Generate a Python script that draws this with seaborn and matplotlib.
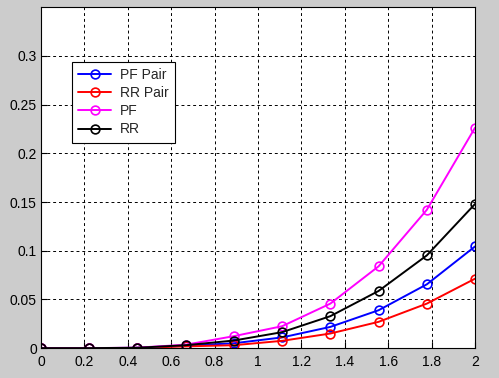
import matplotlib

matplotlib.use("Agg")
import matplotlib.pyplot as plt
import numpy as np
import pandas as pd
import seaborn as sns

# x positions: 10 samples between 0 and 2
x_vals = [0, 0.2222, 0.4444, 0.6667, 0.8889, 1.1111, 1.3333, 1.5556, 1.7778, 2.0]

pf_pair = [0.0, 0.0, 0.0003, 0.0025, 0.005, 0.011, 0.0218, 0.0389, 0.0655, 0.1044]
rr_pair = [0.0, 0.0, 0.0002, 0.0018, 0.003, 0.0075, 0.015, 0.027, 0.0457, 0.0713]
pf = [0.0, 0.0, 0.0005, 0.0035, 0.0123, 0.0225, 0.0457, 0.084, 0.142, 0.2263]
rr = [0.0, 0.0, 0.0004, 0.003, 0.0078, 0.0164, 0.0328, 0.0587, 0.0952, 0.148]

series_names = ["PF Pair", "RR Pair", "PF", "RR"]
series_colors = ["#0000ff", "#ff0000", "#ff00ff", "#000000"]

df = pd.DataFrame({
    "x": x_vals * 4,
    "y": pf_pair + rr_pair + pf + rr,
    "series": np.repeat(series_names, len(x_vals)),
})


def main() -> None:
    sns.set_style("ticks")
    plt.rcParams["font.family"] = ["Liberation Sans", "DejaVu Sans"]

    fig = plt.figure(figsize=(4.99, 3.78), dpi=100, facecolor="#cccccc")
    ax = fig.add_axes([0.082, 0.079, 0.870, 0.902])
    ax.set_facecolor("white")

    for name, color in zip(series_names, series_colors):
        sns.lineplot(
            data=df[df["series"] == name],
            x="x",
            y="y",
            color=color,
            label=name,
            marker="o",
            markersize=6.3,
            mfc="none",
            mec=color,
            mew=1.2,
            linewidth=1.4,
            ax=ax,
        )

    ax.set_xlim(0, 2)
    ax.set_ylim(0, 0.35)
    ax.set_xticks(np.arange(0, 2.01, 0.2))
    ax.set_xticklabels(["0", "0.2", "0.4", "0.6", "0.8", "1", "1.2", "1.4", "1.6", "1.8", "2"])
    ax.set_yticks([0, 0.05, 0.1, 0.15, 0.2, 0.25, 0.3])
    ax.set_yticklabels(["0", "0.05", "0.1", "0.15", "0.2", "0.25", "0.3"])
    ax.set_xlabel("")
    ax.set_ylabel("")
    ax.tick_params(direction="in", labelsize=10, length=4, colors="black")
    ax.tick_params(axis="x", pad=5)
    ax.tick_params(axis="y", pad=3)
    ax.grid(True, color="black", linestyle=(0, (3, 3)), linewidth=0.7)
    for spine in ax.spines.values():
        spine.set_visible(True)
        spine.set_color("black")
        spine.set_linewidth(0.8)

    leg = ax.legend(
        loc="upper left",
        bbox_to_anchor=(0.071, 0.84),
        fontsize=10,
        frameon=True,
        fancybox=False,
        handlelength=2.4,
        handletextpad=0.6,
        borderpad=0.45,
        labelspacing=0.3,
        borderaxespad=0,
    )
    leg.get_frame().set_edgecolor("black")
    leg.get_frame().set_linewidth(0.8)
    leg.get_frame().set_alpha(1)

    fig.savefig("out.png", dpi=100, facecolor=fig.get_facecolor())
    plt.close(fig)


if __name__ == "__main__":
    main()
